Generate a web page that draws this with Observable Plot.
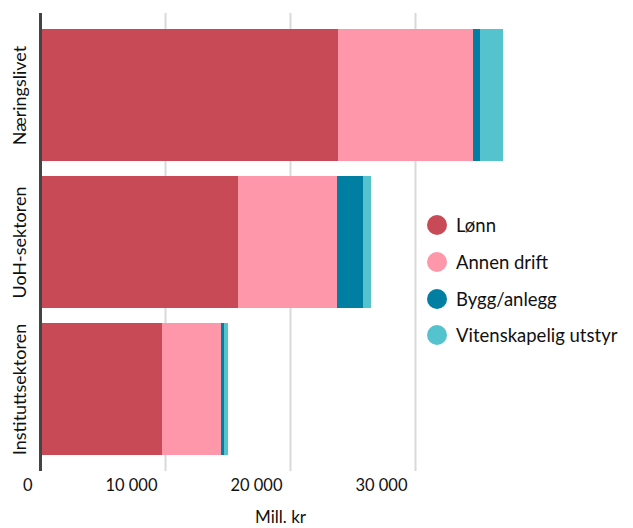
<!DOCTYPE html>
<html>
<head>
<meta charset="utf-8">
<script src="https://cdn.jsdelivr.net/npm/d3@7"></script>
<script src="https://cdn.jsdelivr.net/npm/@observablehq/plot@0.6"></script>
<style>
  html, body { margin: 0; padding: 0; background: #fff; }
  #wrap { position: relative; width: 633px; height: 528px; font-family: Lato, sans-serif; }
  #legend { position: absolute; left: 427px; top: 217px; }
  .item { display: flex; align-items: center; height: 36.7px; font-size: 18.5px; color: #111; white-space: nowrap; }
  .sw { width: 20px; height: 20px; border-radius: 50%; margin-right: 9px; margin-top: -20px; flex: none; }
  .lab { margin-top: -20px; }
</style>
</head>
<body>
<div id="wrap"></div>
<script>
const sectors = ["Næringslivet", "UoH-sektoren", "Instituttsektoren"];
const kinds = ["Lønn", "Annen drift", "Bygg/anlegg", "Vitenskapelig utstyr"];
const colors = ["#c84a57", "#ff97ab", "#007fa3", "#54c3ce"];
const lonn = [23840, 15840, 9760];
const annenDrift = [10800, 7920, 4720];
const bygg = [560, 2080, 240];
const utstyr = [1840, 640, 320];
const xTicks = [0, 10000, 20000, 30000];
const xLabel = "Mill. kr";

const series = [lonn, annenDrift, bygg, utstyr];
const data = [];
kinds.forEach((k, ki) => sectors.forEach((s, si) => data.push({sector: s, kind: k, value: series[ki][si]})));

const fmt = d => d3.format(",")(d).replace(/,/g, "\u00a0");

const chart = Plot.plot({
  width: 633,
  height: 528,
  marginLeft: 40,
  marginRight: 93,
  marginTop: 13,
  marginBottom: 57,
  style: {fontFamily: "Lato, sans-serif", fontSize: "16px", color: "#111", background: "#fff"},
  x: {domain: [0, 40000], axis: null},
  y: {domain: sectors, paddingInner: 0.1, paddingOuter: 0.1, axis: null},
  color: {domain: kinds, range: colors},
  marks: [
    Plot.gridX([10000, 20000, 30000], {stroke: "#d9d9d9", strokeOpacity: 1, strokeWidth: 2}),
    Plot.barX(data, Plot.stackX({x: "value", y: "sector", fill: "kind", order: kinds})),
    Plot.ruleX([0], {stroke: "#444", strokeWidth: 3}),
    Plot.axisX(xTicks, {tickSize: 0, tickPadding: 8, textAnchor: "end", dx: -8, tickFormat: fmt, fontSize: 16.5, fill: "#111", label: null}),
    Plot.text(sectors, {y: d => d, frameAnchor: "left", rotate: -90, dx: -20, textAnchor: "middle", lineAnchor: "middle", fontSize: 18, fill: "#111"}),
    Plot.text([xLabel], {frameAnchor: "bottom", dy: 51, dx: -10, fontSize: 17, fill: "#111"})
  ]
});

const wrap = document.getElementById("wrap");
wrap.appendChild(chart);
const legend = document.createElement("div");
legend.id = "legend";
kinds.forEach((k, i) => {
  const it = document.createElement("div");
  it.className = "item";
  it.innerHTML = `<span class="sw" style="background:${colors[i]}"></span><span class="lab">${k}</span>`;
  legend.appendChild(it);
});
wrap.appendChild(legend);
</script>
</body>
</html>
